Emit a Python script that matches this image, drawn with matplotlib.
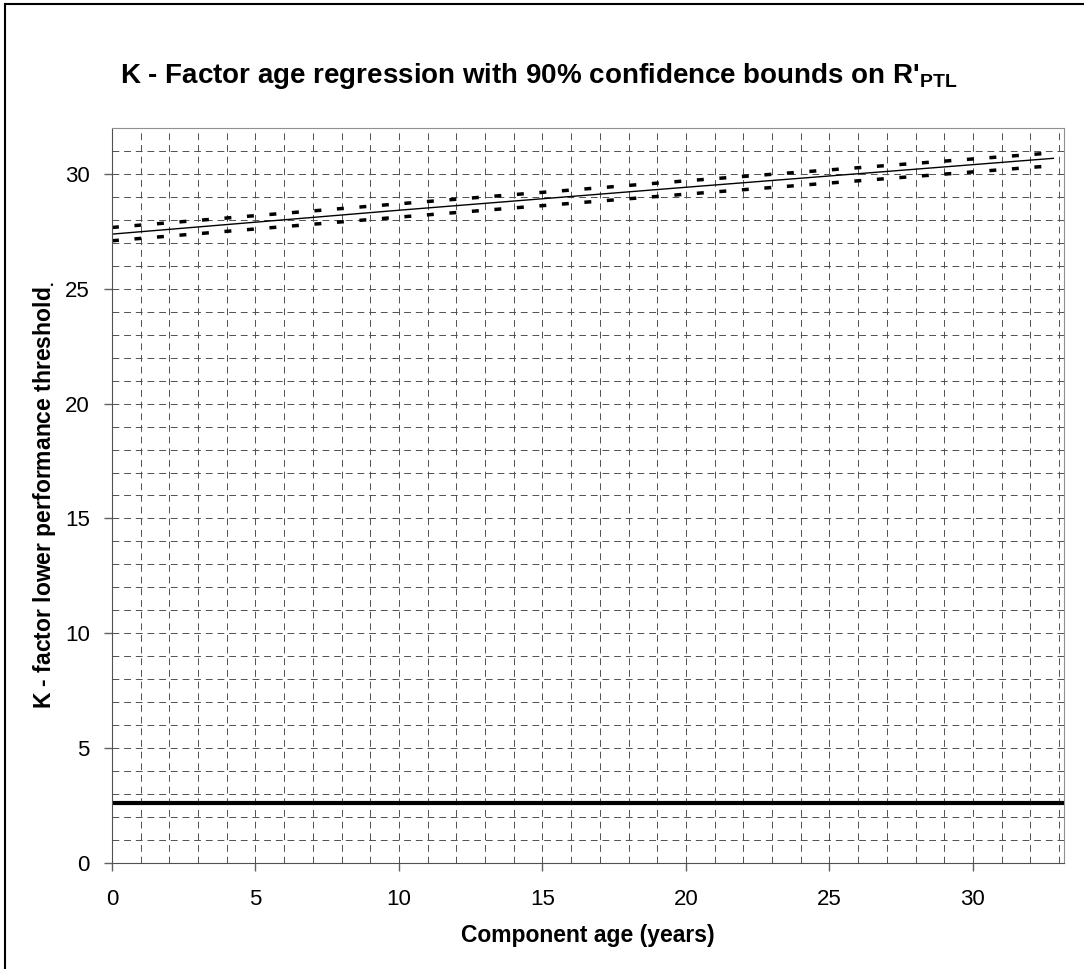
import numpy as np
import matplotlib.pyplot as plt
from matplotlib.patches import Rectangle

plt.rcParams['font.family'] = ['Liberation Sans', 'DejaVu Sans']
plt.rcParams['mathtext.fontset'] = 'custom'
plt.rcParams['mathtext.rm'] = 'Liberation Sans:bold'
plt.rcParams['mathtext.it'] = 'Liberation Sans:bold'
plt.rcParams['mathtext.bf'] = 'Liberation Sans:bold'

# values
age = [0, 10, 20, 32.8]
k_fit = [27.38, 28.42, 29.42, 30.68]
k_upper = [27.67, 28.70, 29.70, 30.92]
k_lower = [27.09, 28.12, 29.12, 30.36]
threshold = 2.6

fig = plt.figure(figsize=(10.84, 9.69), dpi=100)
ax = fig.add_axes([0.1033, 0.1094, 0.8782, 0.7585])

# page frame
fig.patches.append(Rectangle((0.0046, -0.05), 1.2, 1.046, transform=fig.transFigure,
                             fill=False, edgecolor='black', linewidth=1.5))

ax.set_xlim(0, 33.17)
ax.set_ylim(0, 32)
ax.set_xticks(np.arange(0, 35, 5))
ax.set_yticks(np.arange(0, 35, 5))
ax.set_xticks(np.arange(0, 34, 1), minor=True)
ax.set_yticks(np.arange(0, 33, 1), minor=True)
ax.tick_params(which='major', direction='out', length=6, width=1, color='#606060',
               labelsize=16)
ax.tick_params(axis='x', pad=13)
ax.tick_params(axis='y', pad=10)
ax.tick_params(which='minor', length=0)
ax.grid(True, which='both', color='#505050', linestyle=(0, (7, 5)), linewidth=0.7)
ax.set_axisbelow(True)

for side in ['top', 'right']:
    ax.spines[side].set_color('#909090')
for side in ['left', 'bottom']:
    ax.spines[side].set_color('#505050')

ax.axhline(threshold, color='black', linewidth=3)
ax.plot(age, k_fit, color='black', linewidth=1)
ax.plot(age, k_upper, color='black', linewidth=2.5, linestyle=(0, (2, 4.5)))
ax.plot(age, k_lower, color='black', linewidth=2.5, linestyle=(0, (2, 4.5)))

ax.set_xlabel('Component age (years)', fontsize=16.5, fontweight='bold', labelpad=10)
ax.set_ylabel('K - factor lower performance threshold$_{.}$', fontsize=16.5,
              fontweight='bold', labelpad=5)
fig.text(0.497, 0.922, "K - Factor age regression with 90% confidence bounds on R'$_{\\mathrm{PTL}}$",
         ha='center', va='center', fontsize=20, fontweight='bold')

fig.savefig('out.png', dpi=100)
